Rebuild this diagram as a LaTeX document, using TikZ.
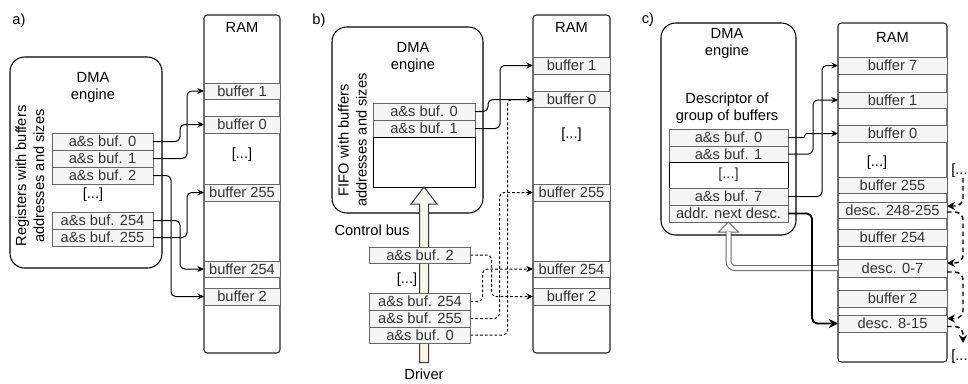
\documentclass[tikz,border=0pt]{standalone}
\usepackage{fontspec}
\setmainfont{Liberation Sans}
\usetikzlibrary{arrows.meta,calc}

\definecolor{cellfill}{HTML}{F5F5F5}
\definecolor{cellline}{HTML}{666666}
\definecolor{celltext}{HTML}{333333}
\definecolor{busfill}{HTML}{F9F7ED}
\definecolor{busline}{HTML}{36393D}

\begin{document}
\begin{tikzpicture}[x=0.75pt,y=-0.75pt,
  font=\fontsize{11}{12.75}\selectfont,
  every node/.style={inner sep=0pt, outer sep=0pt},
  cell/.style 2 args={draw=cellline, fill=cellfill, text=celltext, line width=0.75pt,
    minimum width=#1*0.75pt, minimum height=#2*0.75pt},
  blank/.style 2 args={draw=black, fill=white, text=celltext, line width=0.75pt,
    minimum width=#1*0.75pt, minimum height=#2*0.75pt},
  engine/.style 2 args={draw=black, fill=white, rounded corners=11pt, line width=0.8pt,
    minimum width=#1*0.75pt, minimum height=#2*0.75pt},
  ram/.style 2 args={draw=black!85, fill=white, rounded corners=2.5pt, line width=0.8pt,
    minimum width=#1*0.75pt, minimum height=#2*0.75pt},
  sidetext/.style={rotate=90, align=center, font=\fontsize{11}{13.5}\selectfont},
  link/.style={draw=black, line width=0.75pt, rounded corners=3.5pt,
    -{Stealth[length=5pt,width=4.5pt]}},
  dlink/.style={link, dash pattern=on 2pt off 1.6pt},
  thicklink/.style={draw=black, line width=1.4pt, rounded corners=4pt,
    -{Stealth[length=7pt,width=7pt]}},
  chain/.style={draw=black, line width=1.1pt, dash pattern=on 3.5pt off 2.5pt,
    rounded corners=6pt, -{Stealth[length=6pt,width=6pt]}},
  bus/.style={draw=busline, fill=busfill, line width=0.75pt, line join=miter},
]
\useasboundingbox (0,0) rectangle (968,383);

% ---------------- a) registers in the DMA engine ----------------
\node (labA) at (19,21) {a)};
\node[engine={152}{211}] (engA) at (86,162.5) {};
\node[align=center] (engAt) at (93,87) {DMA\\engine};
\node[sidetext] (regA) at (30,176) {Registers with buffers\\addresses and sizes};
\node[cell={101}{17}] (aA0)   at (102.5,141.5) {a\&s buf. 0};
\node[cell={101}{17}] (aA1)   at (102.5,158.5) {a\&s buf. 1};
\node[cell={101}{17}] (aA2)   at (102.5,175.5) {a\&s buf. 2};
\node (dotsA) at (93,195) {[...]};
\node[cell={101}{17}] (aA254) at (102.5,220.5) {a\&s buf. 254};
\node[cell={101}{17}] (aA255) at (102.5,237.5) {a\&s buf. 255};

\node[ram={76}{338}] (ramA) at (242,184) {};
\node (ramAt) at (242,27) {RAM};
\node[cell={76}{16}] (rA1)   at (242,91)    {buffer 1};
\node[cell={76}{17}] (rA0)   at (242,124.5) {buffer 0};
\node (rAdots) at (242,155) {[...]};
\node[cell={76}{17}] (rA255) at (242,192.5) {buffer 255};
\node[cell={76}{16}] (rA254) at (242,269)   {buffer 254};
\node[cell={76}{17}] (rA2)   at (242,296.5) {buffer 2};

\draw[link] (aA0.east)   -- ++(27,0) |- (rA0.west);
\draw[link] (aA1.east)   -- ++(34,0) |- (rA1.west);
\draw[link] (aA2.east)   -- ++(18,0) |- (rA2.west);
\draw[link] (aA254.east) -- ++(27,0) |- (rA254.west);
\draw[link] (aA255.east) -- ++(34,0) |- (rA255.west);

% ---------------- b) FIFO fed over the control bus ----------------
\node (labB) at (319,21) {b)};
\node[engine={151}{186}] (engB) at (407.5,120) {};
\node[align=center] (engBt) at (413,57) {DMA\\engine};
\node[sidetext] (fifoT) at (352.5,140) {FIFO with buffers\\addresses and sizes};
\node[cell={102}{17}] (fB0) at (424,111.5) {a\&s buf. 0};
\node[cell={102}{17}] (fB1) at (424,128.5) {a\&s buf. 1};
\node[blank={102}{50}] (fBe) at (424,162) {};

\node (drv) at (424,374) {Driver};
\node (cbus) at (372,230) {Control bus};
\coordinate (bTip) at (fBe.south);
\coordinate (bEnd) at ($(drv.north)+(0,-6)$);
\draw[bus] (bTip) -- ($(bTip)+(13,17)$) -- ($(bTip)+(4.5,17)$) -- ($(bEnd)+(4.5,0)$)
  -- ($(bEnd)+(-4.5,0)$) -- ($(bTip)+(-4.5,17)$) -- ($(bTip)+(-13,17)$) -- cycle;

\node[cell={101}{16}] (dB2)   at (420,255)   {a\&s buf. 2};
\node (dotsB) at (407,280) {[...]};
\node[cell={101}{17}] (dB254) at (420,301.5) {a\&s buf. 254};
\node[cell={101}{17}] (dB255) at (420,318.5) {a\&s buf. 255};
\node[cell={101}{16}] (dB0)   at (420,335)   {a\&s buf. 0};

\node[ram={77}{338}] (ramB) at (571.5,184) {};
\node (ramBt) at (571.5,27) {RAM};
\node[cell={77}{17}] (rB1)   at (571.5,65.5)  {buffer 1};
\node[cell={77}{16}] (rB0)   at (571.5,99.5)  {buffer 0};
\node (rBdots) at (571.5,135) {[...]};
\node[cell={77}{17}] (rB255) at (571.5,192.5) {buffer 255};
\node[cell={77}{16}] (rB254) at (571.5,269)   {buffer 254};
\node[cell={77}{17}] (rB2)   at (571.5,296.5) {buffer 2};

\draw[link]  (fB0.east)   -- ++(13,0) |- (rB0.west);
\draw[link]  (fB1.east)   -- ++(25,0) |- (rB1.west);
\draw[dlink] (dB2.east)   -- ++(21,0) |- (rB2.west);
\draw[dlink] (dB254.east) -- ++(12,0) |- (rB254.west);
\draw[dlink] (dB255.east) -- ++(29,0) |- (rB255.west);
\draw[dlink] (dB0.east)   -- ++(37,0) |- (rB0.west);

% ---------------- c) chained descriptors ----------------
\node (labC) at (648,20) {c)};
\node[engine={135}{212}] (engC) at (728.5,129) {};
\node[align=center] (engCt) at (727,43) {DMA\\engine};
\node[align=center] (descT) at (727,108) {Descriptor of\\group of buffers};
\node[cell={119}{17}] (cC0) at (728.5,137.5) {a\&s buf. 0};
\node[cell={119}{16}] (cC1) at (728.5,154)   {a\&s buf. 1};
\node[blank={119}{26}] (cCd) at (728.5,175)  {[...]};
\node[cell={119}{17}] (cC7) at (728.5,196.5) {a\&s buf. 7};
\node[cell={119}{17}] (cCn) at (728.5,213.5) {addr. next desc.};

\node[ram={109}{339}] (ramC) at (892.5,192.5) {};
\node (ramCt) at (892.5,37) {RAM};
\node[cell={109}{17}] (rC7)    at (892.5,65.5)  {buffer 7};
\node[cell={109}{16}] (rC1)    at (892.5,100)   {buffer 1};
\node[cell={109}{17}] (rC0)    at (892.5,133.5) {buffer 0};
\node (rCdots) at (877,163) {[...]};
\node[cell={109}{16}] (rC255)  at (892.5,185)   {buffer 255};
\node[cell={109}{16}] (rCd248) at (892.5,210)   {desc. 248-255};
\node[cell={109}{17}] (rC254)  at (892.5,237.5) {buffer 254};
\node[cell={109}{18}] (rCd0)   at (892.5,268)   {desc. 0-7};
\node[cell={109}{17}] (rC2)    at (892.5,298.5) {buffer 2};
\node[cell={109}{17}] (rCd8)   at (892.5,323.5) {desc. 8-15};

% descriptor loaded into the engine (hollow arrow)
\coordinate (hTip) at (cCn.south);
\draw[draw=cellline, fill=white, line width=0.75pt] (hTip) -- ($(hTip)+(10,10)$)
  -- ($(hTip)+(-10,10)$) -- cycle;
\draw[draw=cellline, double=white, double distance=3pt, line width=0.75pt,
  rounded corners=5pt] (rCd0.west) -| ($(hTip)+(0,9.6)$);

\draw[link, rounded corners=1.5pt] (cC0.east) -- ++(17,0) |- (rC0.west);
\draw[link] (cC1.east) -- ++(25,0) |- (rC1.west);
\draw[link] (cC7.east) -- ++(34,0) |- (rC7.west);
\draw[thicklink] (cCn.east) -- ++(24,0) |- (rCd8.west);

% next-descriptor chain in RAM
\node[anchor=east] (dotsTop) at (967.6,171) {[...};
\node[anchor=east] (dotsBot) at (967.6,357) {[...};
\coordinate (jTop) at (963,178);
\draw[chain] (jTop) |- ($(rCd248.east)+(0,-4)$);
\draw[chain] ($(rCd248.east)+(0,2)$) -- ++(16,0) |- ($(rCd0.east)+(0,-5)$);
\draw[chain] ($(rCd0.east)+(0,4)$) -- ++(16,0) |- ($(rCd8.east)+(0,-5)$);
\draw[chain] ($(rCd8.east)+(0,3)$) -- ++(16,0) -- ++(0,16.5);
\end{tikzpicture}
\end{document}
